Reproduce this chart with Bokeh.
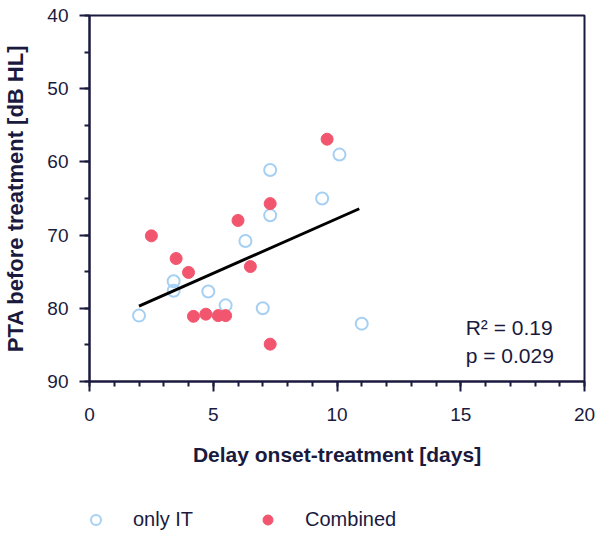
from bokeh.plotting import figure
from bokeh.layouts import column
from bokeh.models import (Range1d, FixedTicker, Legend, LegendItem,
                          ColumnDataSource)
from bokeh.core.properties import value
from bokeh.embed import file_html
from bokeh.resources import INLINE

# data
it_x = [2.0, 3.4, 3.4, 4.8, 5.5, 6.3, 7.0, 7.3, 7.3, 9.4, 10.1, 11.0]
it_y = [81.0, 76.3, 77.6, 77.7, 79.6, 70.8, 80.0, 67.3, 61.1, 65.0, 59.0, 82.1]
comb_x = [2.5, 3.5, 4.0, 4.2, 4.7, 5.2, 5.5, 6.0, 6.5, 7.3, 7.3, 9.6]
comb_y = [70.1, 73.2, 75.1, 81.1, 80.8, 81.0, 81.0, 68.0, 74.3, 65.7, 84.9, 56.9]
fit_x = [2.0, 10.9]
fit_y = [79.7, 66.4]
stats_x = [15.2, 15.2]
stats_y = [82.6, 86.4]
stats_text = ["R\u00b2 = 0.19", "p  = 0.029"]
series_labels = ["only IT", "Combined"]
x_ticks = [0, 5, 10, 15, 20]
y_ticks = [40, 50, 60, 70, 80, 90]

DARK = "#1a1a3e"
BLUE = "#a6d0f3"
RED = "#f2566f"
FONT = "Liberation Sans"

p = figure(width=602, height=500, output_backend="svg",
           toolbar_location=None,
           x_range=Range1d(0, 20), y_range=Range1d(90, 40))
p.min_border_left = 88
p.min_border_right = 18
p.min_border_top = 15
p.min_border_bottom = 119
p.xgrid.visible = False
p.ygrid.visible = False
p.outline_line_color = DARK
p.outline_line_width = 2
p.background_fill_color = "white"
p.border_fill_color = "white"

for ax, ticks, minors in ((p.xaxis[0], x_ticks, list(range(0, 21))),
                          (p.yaxis[0], y_ticks, list(range(40, 91, 5)))):
    ax.ticker = FixedTicker(ticks=ticks, minor_ticks=minors)
    ax.axis_line_color = DARK
    ax.axis_line_width = 2
    ax.major_tick_line_color = DARK
    ax.major_tick_line_width = 2
    ax.minor_tick_line_color = DARK
    ax.minor_tick_line_width = 2
    ax.major_tick_out = 10
    ax.major_tick_in = 0
    ax.minor_tick_out = 5
    ax.minor_tick_in = 0
    ax.major_label_text_font = FONT
    ax.major_label_text_font_size = "19px"
    ax.major_label_text_color = DARK
    ax.axis_label_text_font = FONT
    ax.axis_label_text_font_style = "bold"
    ax.axis_label_text_color = DARK

p.xaxis.axis_label = "Delay onset-treatment [days]"
p.yaxis.axis_label = "PTA before treatment [dB HL]"
p.xaxis.axis_label_text_font_size = "21px"
p.yaxis.axis_label_text_font_size = "22px"
p.xaxis.major_label_standoff = 16
p.xaxis.axis_label_standoff = 19
p.yaxis.major_label_standoff = 11
p.yaxis.axis_label_standoff = 16

p.scatter(it_x, it_y, size=12, marker="circle", fill_color=None,
          line_color=BLUE, line_width=2)
p.scatter(comb_x, comb_y, size=12, marker="circle", fill_color=RED,
          line_color=RED, line_width=1)
p.line(fit_x, fit_y, line_color="black", line_width=3)

src = ColumnDataSource(dict(x=stats_x, y=stats_y, t=stats_text))
p.text(x="x", y="y", text="t", source=src, text_font=value(FONT),
       text_font_size="21px", text_color=DARK, text_baseline="middle")

# legend strip below the chart (its frame is aligned with the chart's frame)
lg = figure(width=602, height=39, output_backend="svg", toolbar_location=None,
            x_range=Range1d(0, 1), y_range=Range1d(0, 1),
            x_axis_type=None, y_axis_type=None)
lg.min_border = 0
lg.outline_line_color = None
lg.xgrid.visible = False
lg.ygrid.visible = False
# proxy renderers for the legend; their point falls outside this strip's ranges
lg_it = lg.scatter(it_x[:1], it_y[:1], size=12, marker="circle",
                   fill_color=None, line_color=BLUE, line_width=2)
lg_comb = lg.scatter(comb_x[:1], comb_y[:1], size=12, marker="circle",
                     fill_color=RED, line_color=RED, line_width=1)
legend = Legend(items=[LegendItem(label=series_labels[0], renderers=[lg_it]),
                       LegendItem(label=series_labels[1], renderers=[lg_comb])],
                orientation="horizontal", location=(-6, 7))
legend.label_text_font = FONT
legend.label_text_font_size = "20px"
legend.label_text_color = DARK
legend.border_line_color = None
legend.background_fill_alpha = 0
legend.padding = 0
legend.margin = 0
legend.spacing = 62
legend.label_standoff = 25
legend.glyph_width = 25
legend.glyph_height = 25
lg.add_layout(legend)

layout = column(p, lg, spacing=0)
open("out.html", "w").write(file_html(layout, INLINE))
